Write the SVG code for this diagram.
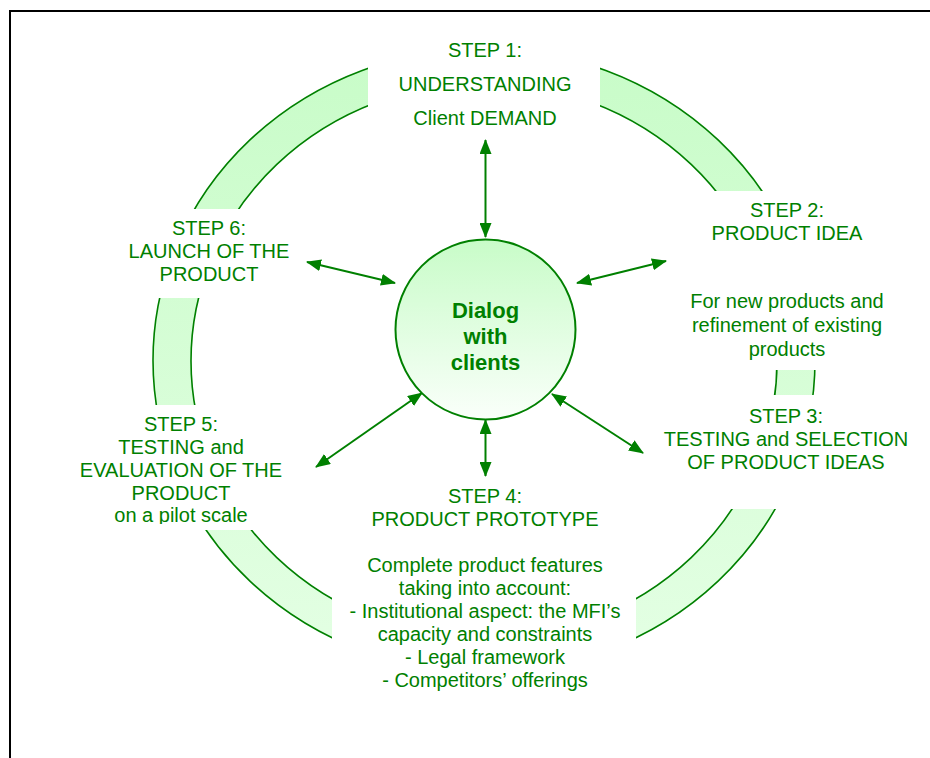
<svg xmlns="http://www.w3.org/2000/svg" width="930" height="758" viewBox="0 0 930 758">
  <style>
    .t { font-family: "Liberation Sans", Arial, sans-serif; font-size: 20px; fill: #008000; text-anchor: middle; }
    .b { font-family: "Liberation Sans", Arial, sans-serif; font-size: 22px; font-weight: bold; fill: #008000; text-anchor: middle; }
    .mask { fill: #ffffff; stroke: none; }
    .arrow { stroke: #008000; stroke-width: 2; fill: none; marker-start: url(#head); marker-end: url(#head); }
  </style>
  <defs>
    <linearGradient id="ringFill" gradientUnits="userSpaceOnUse" x1="0" y1="48" x2="0" y2="673">
      <stop offset="0" stop-color="#c8fcc8"/>
      <stop offset="1" stop-color="#e4ffe4"/>
    </linearGradient>
    <linearGradient id="hubFill" x1="0" y1="0" x2="0" y2="1">
      <stop offset="0" stop-color="#c8fcc8"/>
      <stop offset="1" stop-color="#fafffa"/>
    </linearGradient>
    <marker id="head" markerUnits="userSpaceOnUse" markerWidth="15" markerHeight="12" refX="14" refY="6" orient="auto-start-reverse">
      <path d="M0,0 L15,6 L0,12 z" fill="#008000"/>
    </marker>
    <clipPath id="clip5">
      <rect x="70" y="405" width="225" height="119"/>
    </clipPath>
  </defs>

  <rect width="930" height="758" fill="#ffffff"/>
  <!-- page frame -->
  <rect x="10" y="11" width="940" height="780" fill="none" stroke="#000000" stroke-width="2"/>

  <!-- cycle ring -->
  <g id="ring">
    <path fill="url(#ringFill)" stroke="#008000" stroke-width="1.6" fill-rule="evenodd"
      d="M153,360.5 a331,312 0 1,0 662,0 a331,312 0 1,0 -662,0 z M191,361 a293,278 0 1,0 586,0 a293,278 0 1,0 -586,0 z"/>
  </g>

  <!-- white label panels over the ring -->
  <g id="panels">
    <rect class="mask" x="368" y="28" width="232" height="110"/>
    <rect class="mask" x="700" y="191" width="200" height="179"/>
    <rect class="mask" x="660" y="395" width="255" height="114"/>
    <rect class="mask" x="332" y="478" width="304" height="217"/>
    <rect class="mask" x="70" y="405" width="225" height="125"/>
    <rect class="mask" x="120" y="209" width="180" height="89"/>
  </g>

  <g id="step1">
    <text class="t" x="485" y="57">STEP 1:</text>
    <text class="t" x="485" y="91">UNDERSTANDING</text>
    <text class="t" x="485" y="125">Client DEMAND</text>
  </g>
  <g id="step2">
    <text class="t" x="787" y="217">STEP 2:</text>
    <text class="t" x="787" y="240">PRODUCT IDEA</text>
    <text class="t" x="787" y="308">For new products and</text>
    <text class="t" x="787" y="332">refinement of existing</text>
    <text class="t" x="787" y="356">products</text>
  </g>
  <g id="step3">
    <text class="t" x="786" y="423">STEP 3:</text>
    <text class="t" x="786" y="446">TESTING and SELECTION</text>
    <text class="t" x="786" y="469">OF PRODUCT IDEAS</text>
  </g>
  <g id="step4">
    <text class="t" x="485" y="503">STEP 4:</text>
    <text class="t" x="485" y="526">PRODUCT PROTOTYPE</text>
    <text class="t" x="485" y="572">Complete product features</text>
    <text class="t" x="485" y="595">taking into account:</text>
    <text class="t" x="485" y="618">- Institutional aspect: the MFI’s</text>
    <text class="t" x="485" y="641">capacity and constraints</text>
    <text class="t" x="485" y="664">- Legal framework</text>
    <text class="t" x="485" y="687">- Competitors’ offerings</text>
  </g>
  <g id="step5" clip-path="url(#clip5)">
    <text class="t" x="181" y="431">STEP 5:</text>
    <text class="t" x="181" y="454">TESTING and</text>
    <text class="t" x="181" y="477">EVALUATION OF THE</text>
    <text class="t" x="181" y="499.5">PRODUCT</text>
    <text class="t" x="181" y="522">on a pilot scale</text>
  </g>
  <g id="step6">
    <text class="t" x="209" y="235">STEP 6:</text>
    <text class="t" x="209" y="258">LAUNCH OF THE</text>
    <text class="t" x="209" y="281">PRODUCT</text>
  </g>

  <!-- two-way links between the hub and each step -->
  <g id="connectors">
    <line class="arrow" x1="485.5" y1="140" x2="485.5" y2="237"/>
    <line class="arrow" x1="307" y1="262" x2="395" y2="283"/>
    <line class="arrow" x1="666" y1="261" x2="577" y2="283"/>
    <line class="arrow" x1="316" y1="467" x2="422" y2="393"/>
    <line class="arrow" x1="643" y1="453" x2="552" y2="394"/>
    <line class="arrow" x1="485.5" y1="476" x2="485.5" y2="420"/>
  </g>

  <g id="hub">
    <circle cx="485.5" cy="329.5" r="90" fill="url(#hubFill)" stroke="#008000" stroke-width="2"/>
    <text class="b" x="485.5" y="318">Dialog</text>
    <text class="b" x="485.5" y="344">with</text>
    <text class="b" x="485.5" y="370">clients</text>
  </g>
</svg>
